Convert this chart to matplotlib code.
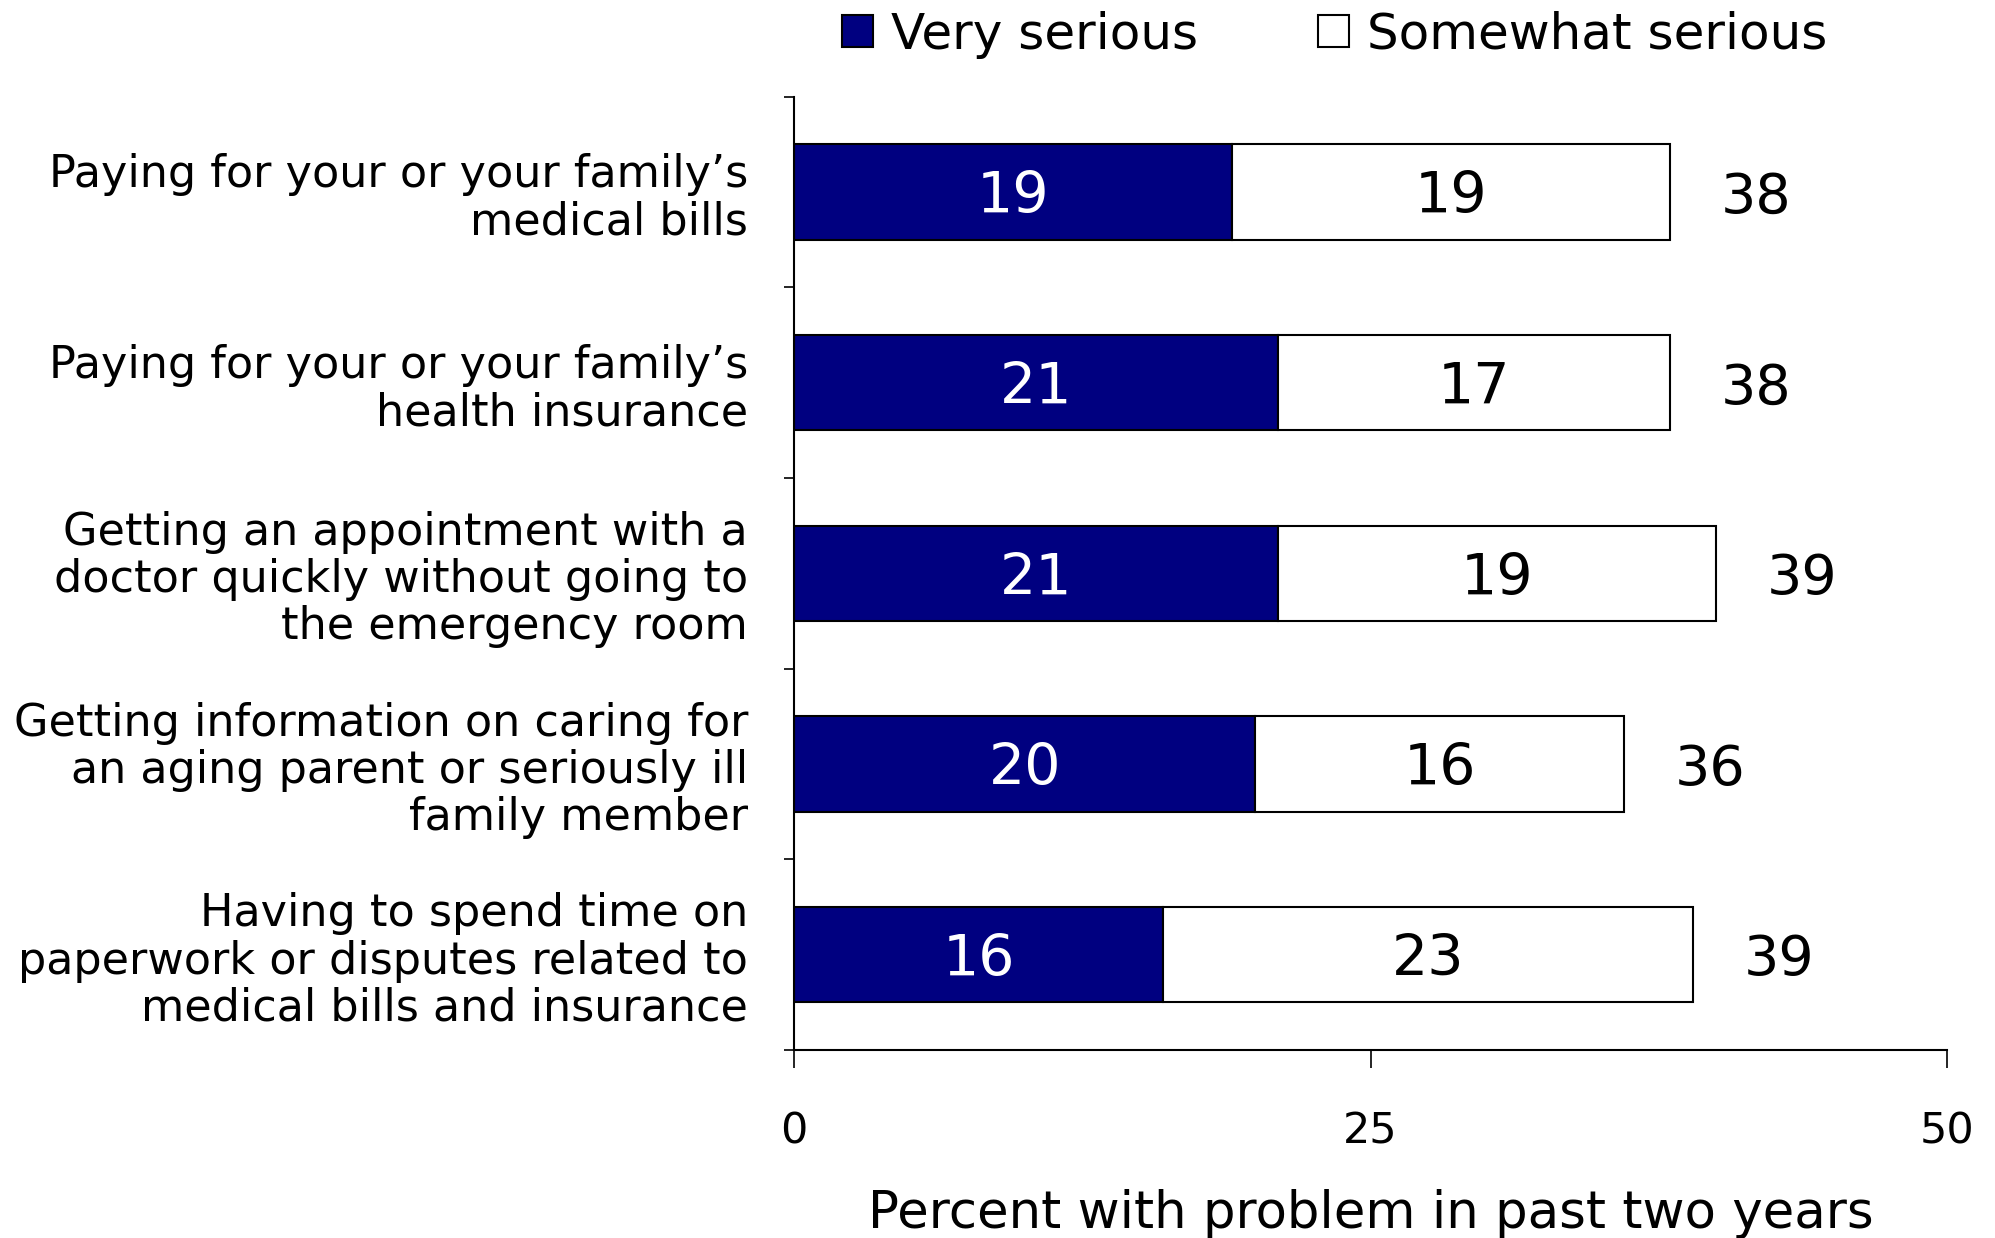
import numpy as np
import matplotlib.pyplot as plt
from matplotlib.patches import Patch
from matplotlib.ticker import FixedLocator

plt.rcParams['font.family'] = ['DejaVu Sans']

categories = [
    "Paying for your or your family\u2019s\nmedical bills",
    "Paying for your or your family\u2019s\nhealth insurance",
    "Getting an appointment with a\ndoctor quickly without going to\nthe emergency room",
    "Getting information on caring for\nan aging parent or seriously ill\nfamily member",
    "Having to spend time on\npaperwork or disputes related to\nmedical bills and insurance",
]
very_serious = [19, 21, 21, 20, 16]
somewhat_serious = [19, 17, 19, 16, 23]
totals = [38, 38, 39, 36, 39]
xticks = [0, 25, 50]

navy = '#000080'

fig = plt.figure(figsize=(19.95, 12.38), dpi=100)
ax = fig.add_axes([0.398, 0.152, 0.578, 0.770])

y = np.arange(len(categories))
ax.barh(y, very_serious, height=0.5, color=navy, edgecolor='black', linewidth=1.5)
left2 = np.array(very_serious)
ax.barh(y, somewhat_serious, left=left2, height=0.5, color='white',
        edgecolor='black', linewidth=1.5)

# segment values inside the bars, totals just past the bar end
for i in range(len(categories)):
    ax.text(very_serious[i] / 2, y[i], str(very_serious[i]), color='white',
            ha='center', va='center_baseline', fontsize=41)
    ax.text(very_serious[i] + somewhat_serious[i] / 2, y[i], str(somewhat_serious[i]),
            color='black', ha='center', va='center_baseline', fontsize=41)
    end = very_serious[i] + somewhat_serious[i]
    ax.text(end + 2.2, y[i], str(totals[i]), color='black',
            ha='left', va='center_baseline', fontsize=40)

ax.set_xlim(0, 50)
ax.set_ylim(len(categories) - 0.5, -0.5)
ax.set_xticks(xticks)
ax.set_xticklabels([str(t) for t in xticks], fontsize=31)
ax.tick_params(axis='x', direction='out', length=13, width=1.2, pad=31)

ax.set_yticks(y)
ax.set_yticklabels(categories, fontsize=32, linespacing=1.12)
ax.yaxis.set_minor_locator(FixedLocator(np.arange(-0.5, len(categories), 1.0)))
ax.tick_params(axis='y', which='major', length=0, pad=46 * 0.72)
ax.tick_params(axis='y', which='minor', direction='out', length=7, width=1.2)

for s in ['top', 'right']:
    ax.spines[s].set_visible(False)
for s in ['left', 'bottom']:
    ax.spines[s].set_linewidth(1.5)

ax.set_xlabel('Percent with problem in past two years', fontsize=37, labelpad=26)

handles = [Patch(facecolor=navy, edgecolor='black', linewidth=1.5),
           Patch(facecolor='white', edgecolor='black', linewidth=1.5)]
fig.legend(handles, ['Very serious', 'Somewhat serious'], loc='center',
           bbox_to_anchor=(0.669, 0.972), ncol=2, frameon=False, fontsize=36,
           handlelength=0.62, handleheight=0.62, handletextpad=0.35,
           columnspacing=2.4, borderaxespad=0)

fig.savefig('out.png', dpi=100)
